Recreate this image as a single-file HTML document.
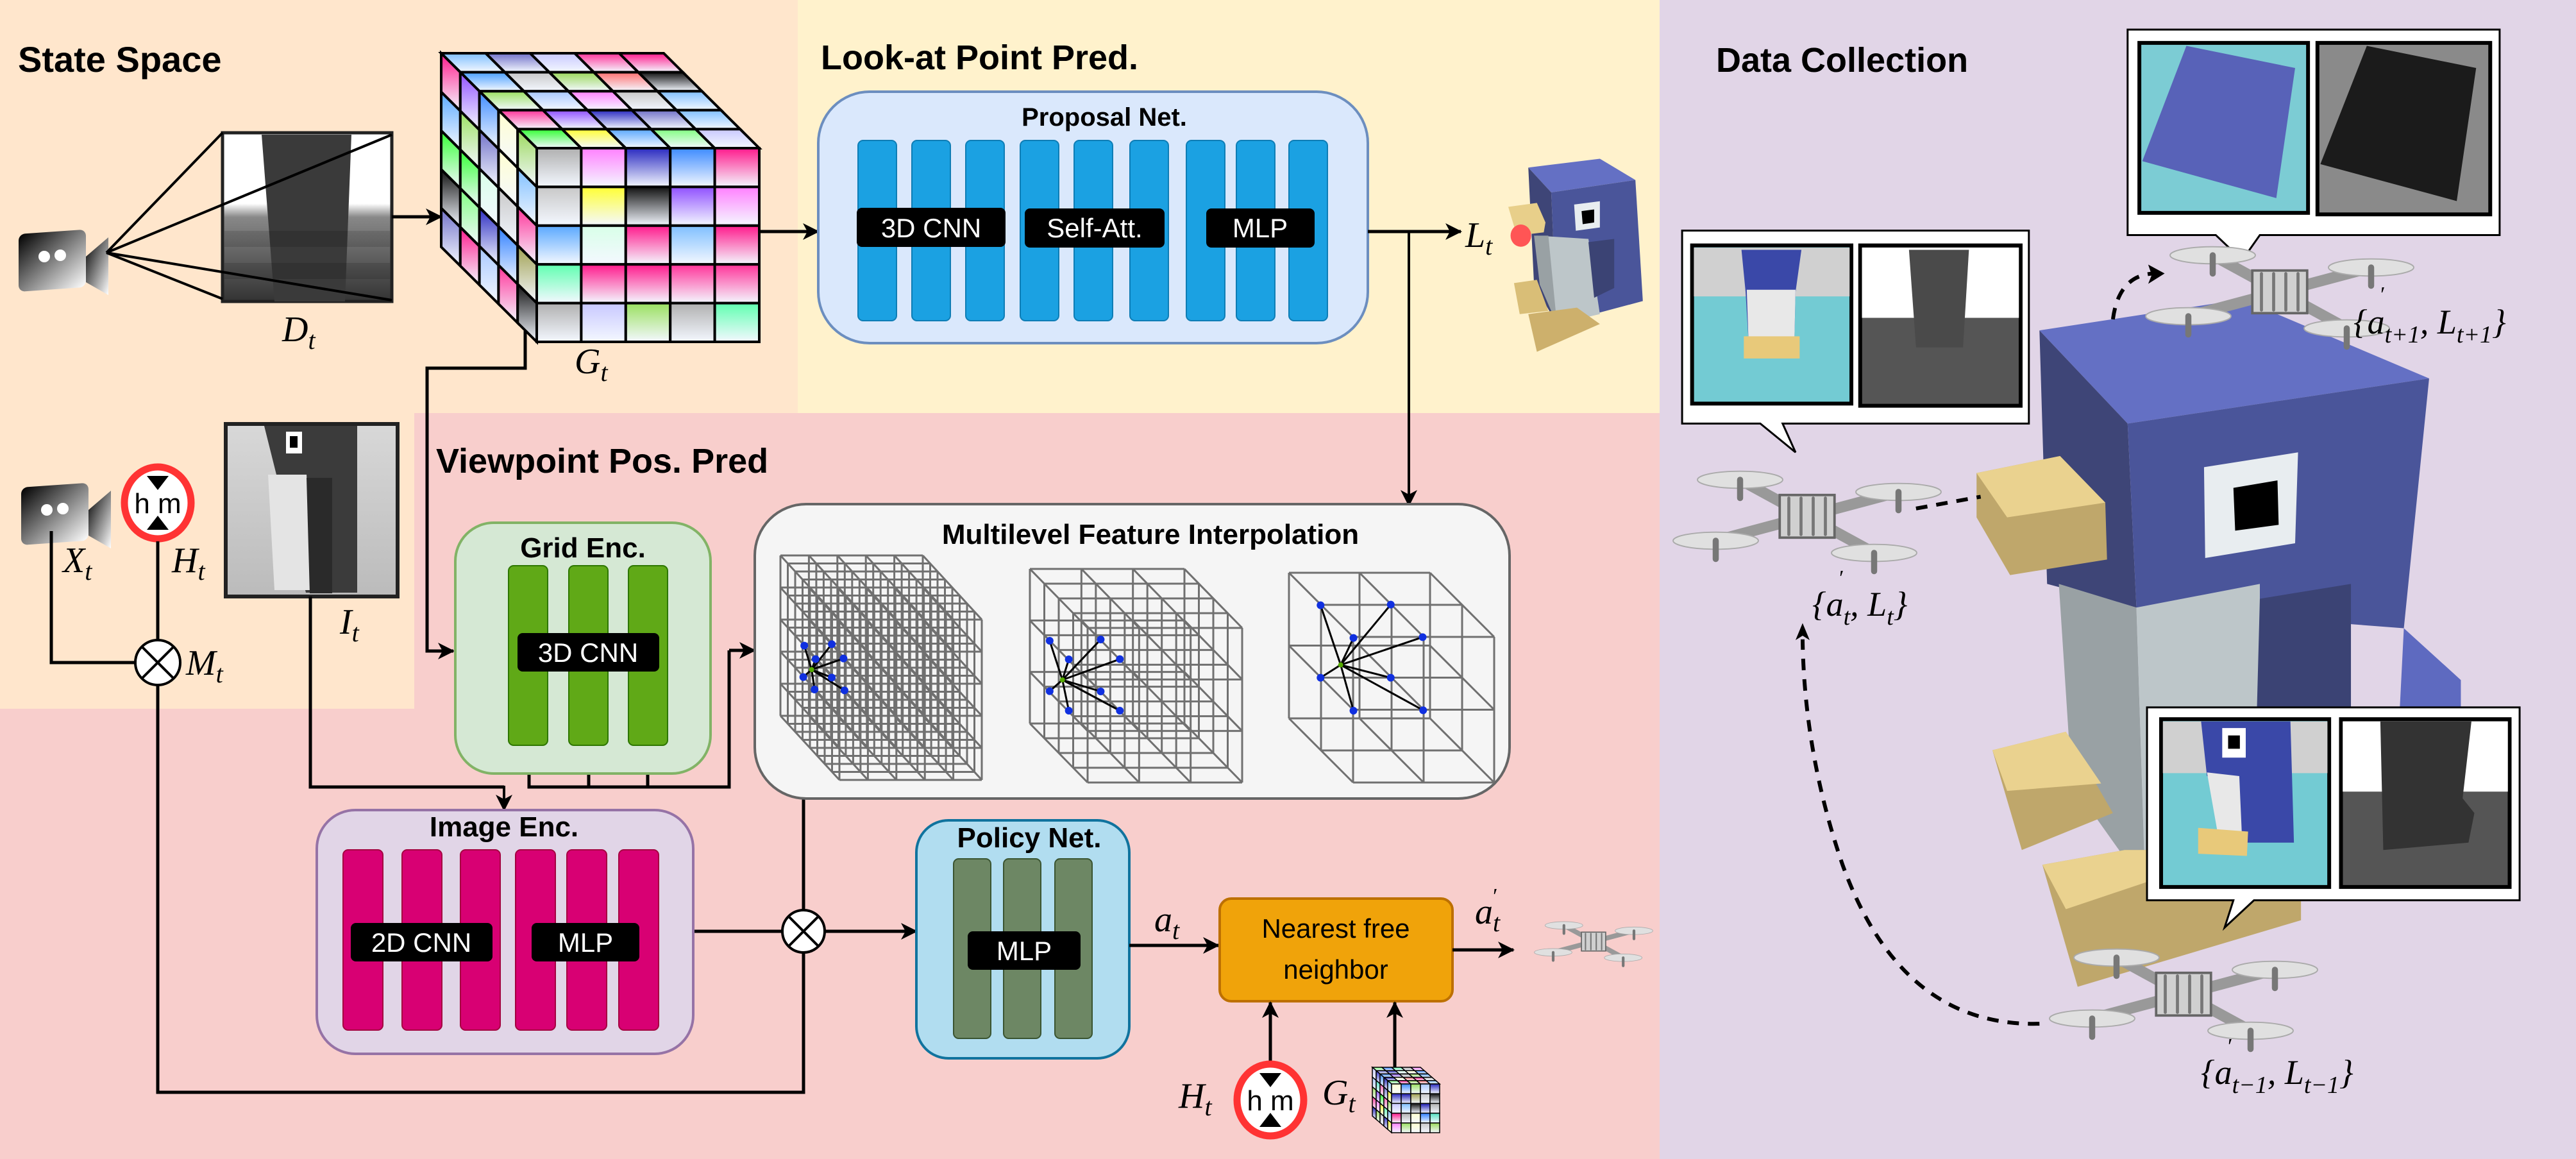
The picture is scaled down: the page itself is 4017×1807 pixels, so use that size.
<!DOCTYPE html>
<html><head><meta charset="utf-8"><style>
html,body{margin:0;padding:0;background:#fff}
svg{display:block}
.t{font-family:"Liberation Sans",sans-serif}
.m{font-family:"Liberation Serif",serif;font-style:italic}
</style></head><body>
<svg id="s" width="4017" height="1807" viewBox="0 0 4017 1807" xmlns="http://www.w3.org/2000/svg">
<defs>
<marker id="ar" markerUnits="userSpaceOnUse" markerWidth="28" markerHeight="26" refX="24" refY="13" orient="auto">
<path d="M0,0 L26,13 L0,26 L7,13 z" fill="#000"/></marker>
<linearGradient id="cam" x1="0" y1="0" x2="1" y2="1"><stop offset="0" stop-color="#000"/><stop offset="1" stop-color="#fff"/></linearGradient>
<linearGradient id="dep" x1="0" y1="0" x2="0" y2="1"><stop offset="0" stop-color="#fff"/><stop offset="0.42" stop-color="#fff"/><stop offset="0.5" stop-color="#888"/><stop offset="1" stop-color="#333"/></linearGradient>
<linearGradient id="img" x1="0" y1="0" x2="0" y2="1"><stop offset="0" stop-color="#d8d8d8"/><stop offset="1" stop-color="#bbb"/></linearGradient>
<g id="hm"><ellipse cx="0" cy="0" rx="52" ry="56" fill="#fff" stroke="#f33" stroke-width="11"/>
<path d="M-17,-42 L17,-42 L0,-20 z M-17,42 L17,42 L0,20 z" fill="#000"/>
<text x="0" y="16" text-anchor="middle" class="t" font-size="44">h m</text></g>
<g id="camera"><rect x="0" y="20" width="105" height="90" rx="10" fill="url(#cam)" transform="skewY(-4)"/>
<circle cx="40" cy="55" r="9" fill="#fff"/><circle cx="65" cy="53" r="9" fill="#fff"/>
<path d="M105,55 L140,25 L140,115 L105,95 z" fill="url(#cam)"/></g>
<g id="drone" stroke-linecap="round">
<path d="M-150,40 L150,-40 M-110,-60 L110,60" stroke="#999" stroke-width="18"/>
<rect x="-45" y="-35" width="90" height="70" fill="#d0d0d0" stroke="#666" stroke-width="4"/>
<path d="M-30,-30 V30 M-10,-30 V30 M10,-30 V30 M30,-30 V30" stroke="#777" stroke-width="5"/>
<ellipse cx="-150" cy="40" rx="70" ry="14" fill="#e0e0e0" stroke="#aaa" stroke-width="2"/>
<ellipse cx="150" cy="-40" rx="70" ry="14" fill="#e0e0e0" stroke="#aaa" stroke-width="2"/>
<ellipse cx="-110" cy="-60" rx="70" ry="14" fill="#e0e0e0" stroke="#aaa" stroke-width="2"/>
<ellipse cx="110" cy="60" rx="70" ry="14" fill="#e0e0e0" stroke="#aaa" stroke-width="2"/>
<path d="M-150,40 v30 M150,-40 v30 M-110,-60 v30 M110,60 v30" stroke="#777" stroke-width="10"/>
</g>
</defs>

<rect x="0" y="0" width="2588" height="1807" fill="#F8CECC"/>
<rect x="0" y="0" width="1244" height="644" fill="#FFE6CC"/>
<rect x="0" y="0" width="646" height="1105" fill="#FFE6CC"/>
<rect x="1244" y="0" width="1344" height="644" fill="#FFF2CC"/>
<rect x="2588" y="0" width="1429" height="1807" fill="#E1D5E7"/>

<text x="28" y="112" class="t" font-size="56" font-weight="bold">State Space</text>
<text x="1280" y="108" class="t" font-size="54" font-weight="bold">Look-at Point Pred.</text>
<text x="680" y="737" class="t" font-size="54" font-weight="bold">Viewpoint Pos. Pred</text>
<text x="2676" y="112" class="t" font-size="54" font-weight="bold">Data Collection</text>

<use href="#camera" x="29" y="345"/>
<rect x="347" y="207" width="264" height="263" fill="url(#dep)" stroke="#222" stroke-width="5"/>
<path d="M408,210 h140 l-10,260 h-110z" fill="#3a3a3a"/>
<g fill="#000" opacity="0.12"><rect x="350" y="360" width="258" height="25"/><rect x="350" y="410" width="258" height="25"/></g>
<path d="M166,394 L347,207 M166,394 L611,210 M166,394 L347,466 M166,394 L611,468" stroke="#000" stroke-width="4" fill="none"/>
<text x="440" y="532" class="m" font-size="56">D<tspan font-size="40" dy="12">t</tspan></text>
<line x1="611" y1="338" x2="688" y2="338" stroke="#000" stroke-width="5" marker-end="url(#ar)"/>

<g id="bigcube"></g>
<text x="896" y="582" class="m" font-size="56">G<tspan font-size="40" dy="12">t</tspan></text>

<polyline points="819,516 819,574 666,574 666,1015 707,1015" fill="none" stroke="#000" stroke-width="5" marker-end="url(#ar)"/>
<line x1="1184" y1="361" x2="1276" y2="361" stroke="#000" stroke-width="5" marker-end="url(#ar)"/>

<rect x="1276" y="143" width="857" height="392" rx="80" fill="#DAE8FC" stroke="#6C8EBF" stroke-width="4"/>
<text x="1722" y="196" text-anchor="middle" class="t" font-size="40" font-weight="bold">Proposal Net.</text>
<g fill="#1BA1E2" stroke="#0E7DB5" stroke-width="2">
<rect x="1338" y="219" width="60" height="281" rx="8"/><rect x="1422" y="219" width="60" height="281" rx="8"/><rect x="1506" y="219" width="60" height="281" rx="8"/>
<rect x="1591" y="219" width="60" height="281" rx="8"/><rect x="1675" y="219" width="60" height="281" rx="8"/><rect x="1762" y="219" width="60" height="281" rx="8"/>
<rect x="1850" y="219" width="60" height="281" rx="8"/><rect x="1928" y="219" width="60" height="281" rx="8"/><rect x="2010" y="219" width="60" height="281" rx="8"/></g>
<rect x="1336" y="324" width="232" height="61" rx="8" fill="#000"/>
<rect x="1598" y="325" width="218" height="61" rx="8" fill="#000"/>
<rect x="1881" y="325" width="169" height="61" rx="8" fill="#000"/>
<g class="t" font-size="42" fill="#fff" text-anchor="middle">
<text x="1452" y="370">3D CNN</text><text x="1707" y="370">Self-Att.</text><text x="1965" y="370">MLP</text></g>
<line x1="2133" y1="361" x2="2278" y2="361" stroke="#000" stroke-width="5" marker-end="url(#ar)"/>
<line x1="2197" y1="361" x2="2197" y2="788" stroke="#000" stroke-width="4" marker-end="url(#ar)"/>
<text x="2285" y="385" class="m" font-size="56">L<tspan font-size="40" dy="12">t</tspan></text>

<g transform="translate(1200,0) scale(0.893,0.5102)">
<polygon points="1325,512 1450,485 1512,550 1365,588" fill="#6470C4"/>
<polygon points="1325,512 1365,588 1375,990 1335,870" fill="#3E4577"/>
<polygon points="1365,588 1512,550 1525,920 1375,990" fill="#4A559A"/>
<polygon points="1340,720 1430,730 1450,960 1375,990 1345,860" fill="#BDC6C9"/>
<polygon points="1335,720 1360,720 1375,990 1345,870" fill="#99A1A4"/>
<polygon points="1430,740 1475,730 1475,880 1440,910" fill="#3B4374"/>
<polygon points="1405,625 1450,615 1450,695 1408,705" fill="#E8EDF0"/>
<polygon points="1418,645 1440,640 1440,680 1420,685" fill="#000"/>
<polygon points="1290,632 1340,620 1355,680 1352,710 1305,720" fill="#E8CF8A"/>
<polygon points="1300,865 1340,855 1360,950 1310,960" fill="#D9BE77"/>
<polygon points="1325,960 1410,940 1450,990 1340,1075" fill="#CDB06C"/>
<ellipse cx="1312" cy="720" rx="18" ry="34" fill="#f55"/>
</g>

<use href="#camera" x="33" y="740"/>
<use href="#hm" x="246" y="784"/>
<text x="98" y="892" class="m" font-size="56">X<tspan font-size="40" dy="12">t</tspan></text>
<text x="268" y="892" class="m" font-size="56">H<tspan font-size="40" dy="12">t</tspan></text>
<rect x="352" y="661" width="268" height="269" fill="url(#img)" stroke="#222" stroke-width="6"/>
<path d="M412,664 h145 v260 h-80 z" fill="#3b3b3b"/>
<path d="M418,740 h60 l10,180 h-60z" fill="#e4e4e4"/>
<path d="M478,745 h40 v180 h-35z" fill="#2a2a2a"/>
<rect x="446" y="673" width="25" height="34" fill="#fff"/><rect x="452" y="680" width="12" height="18" fill="#000"/>
<text x="530" y="988" class="m" font-size="56">I<tspan font-size="40" dy="12">t</tspan></text>
<g stroke="#000" stroke-width="5" fill="none">
<polyline points="80,828 80,1033 211,1033"/>
<line x1="246" y1="844" x2="246" y2="998"/>
<polyline points="246,1068 246,1703 1253,1703 1253,1245"/>
<polyline points="484,930 484,1227 786,1227"/>
<polyline points="825,1162 825,1227 1137,1227 1137,1014"/>
<line x1="918" y1="1162" x2="918" y2="1227"/><line x1="1010" y1="1162" x2="1010" y2="1227"/>
<line x1="1081" y1="1452" x2="1220" y2="1452"/>
</g>
<line x1="786" y1="1225" x2="786" y2="1263" stroke="#000" stroke-width="4" marker-end="url(#ar)"/>
<line x1="1137" y1="1014" x2="1177" y2="1014" stroke="#000" stroke-width="5" marker-end="url(#ar)"/>
<line x1="1286" y1="1452" x2="1429" y2="1452" stroke="#000" stroke-width="5" marker-end="url(#ar)"/>
<g stroke="#000" stroke-width="4" fill="#fff">
<circle cx="246" cy="1033" r="35"/><path d="M221,1008 L271,1058 M271,1008 L221,1058"/>
<circle cx="1253" cy="1452" r="33"/><path d="M1230,1429 L1276,1475 M1276,1429 L1230,1475"/></g>
<text x="290" y="1052" class="m" font-size="56">M<tspan font-size="40" dy="12">t</tspan></text>

<rect x="710" y="815" width="398" height="391" rx="60" fill="#D5E8D4" stroke="#82B366" stroke-width="4"/>
<text x="909" y="869" text-anchor="middle" class="t" font-size="44" font-weight="bold">Grid Enc.</text>
<g fill="#60A917" stroke="#2D7600" stroke-width="2"><rect x="793" y="882" width="61" height="280" rx="8"/><rect x="887" y="882" width="61" height="280" rx="8"/><rect x="980" y="882" width="61" height="280" rx="8"/></g>
<rect x="807" y="987" width="221" height="60" rx="8" fill="#000"/>
<text x="917" y="1032" text-anchor="middle" class="t" font-size="42" fill="#fff">3D CNN</text>

<rect x="1177" y="786" width="1177" height="459" rx="80" fill="#F5F5F5" stroke="#666" stroke-width="4"/>
<text x="1794" y="848" text-anchor="middle" class="t" font-size="44" font-weight="bold">Multilevel Feature Interpolation</text>
<g id="grids"></g>

<rect x="494" y="1263" width="587" height="380" rx="60" fill="#E1D5E7" stroke="#9673A6" stroke-width="4"/>
<text x="786" y="1304" text-anchor="middle" class="t" font-size="44" font-weight="bold">Image Enc.</text>
<g fill="#D80073" stroke="#A50040" stroke-width="2">
<rect x="535" y="1325" width="62" height="281" rx="8"/><rect x="627" y="1325" width="62" height="281" rx="8"/><rect x="718" y="1325" width="62" height="281" rx="8"/>
<rect x="804" y="1325" width="62" height="281" rx="8"/><rect x="884" y="1325" width="62" height="281" rx="8"/><rect x="965" y="1325" width="62" height="281" rx="8"/></g>
<rect x="547" y="1439" width="221" height="60" rx="8" fill="#000"/><rect x="829" y="1439" width="168" height="60" rx="8" fill="#000"/>
<g class="t" font-size="42" fill="#fff" text-anchor="middle"><text x="657" y="1484">2D CNN</text><text x="913" y="1484">MLP</text></g>

<rect x="1429" y="1279" width="332" height="371" rx="50" fill="#B1DDF0" stroke="#10739E" stroke-width="4"/>
<text x="1605" y="1321" text-anchor="middle" class="t" font-size="44" font-weight="bold">Policy Net.</text>
<g fill="#6D8764" stroke="#3A5431" stroke-width="2"><rect x="1487" y="1339" width="58" height="280" rx="8"/><rect x="1565" y="1339" width="58" height="280" rx="8"/><rect x="1645" y="1339" width="58" height="280" rx="8"/></g>
<rect x="1509" y="1452" width="176" height="60" rx="8" fill="#000"/>
<text x="1597" y="1497" text-anchor="middle" class="t" font-size="42" fill="#fff">MLP</text>
<line x1="1761" y1="1474" x2="1900" y2="1474" stroke="#000" stroke-width="5" marker-end="url(#ar)"/>
<text x="1800" y="1452" class="m" font-size="56">a<tspan font-size="40" dy="12">t</tspan></text>
<rect x="1902" y="1401" width="363" height="160" rx="18" fill="#F0A30A" stroke="#BD7000" stroke-width="4"/>
<g class="t" font-size="42" text-anchor="middle"><text x="2083" y="1462">Nearest free</text><text x="2083" y="1526">neighbor</text></g>
<line x1="2265" y1="1481" x2="2360" y2="1481" stroke="#000" stroke-width="5" marker-end="url(#ar)"/>
<text x="2300" y="1440" class="m" font-size="56">a<tspan font-size="40" dy="12">t</tspan></text>
<text x="2326" y="1408" class="m" font-size="34">′</text>
<use href="#drone" transform="translate(2485,1468) scale(0.42)"/>
<line x1="1981" y1="1657" x2="1981" y2="1563" stroke="#000" stroke-width="5" marker-end="url(#ar)"/>
<line x1="2175" y1="1667" x2="2175" y2="1563" stroke="#000" stroke-width="5" marker-end="url(#ar)"/>
<use href="#hm" x="1981" y="1715"/>
<text x="1838" y="1727" class="m" font-size="56">H<tspan font-size="40" dy="12">t</tspan></text>
<text x="2062" y="1722" class="m" font-size="56">G<tspan font-size="40" dy="12">t</tspan></text>
<g id="smallcube"></g>

<g transform="translate(2580,0) scale(0.9165,1.1524)">
<polygon points="655,447 1000,405 1318,512 805,573" fill="#6470C4"/>
<polygon points="655,447 805,573 820,822 668,790" fill="#3E4577"/>
<polygon points="805,573 1318,512 1275,850 820,822" fill="#4A559A"/>
<polygon points="1275,850 1372,920 1372,960 1268,960" fill="#5E6AC0"/>
<polygon points="688,790 820,822 835,1200 710,1060" fill="#99A1A4"/>
<polygon points="820,822 1030,790 1030,1200 835,1200" fill="#BDC6C9"/>
<polygon points="1030,810 1185,790 1185,960 1025,960" fill="#3B4374"/>
<polygon points="935,632 1095,612 1090,735 937,755" fill="#E8EDF0"/>
<polygon points="985,660 1060,650 1062,710 988,718" fill="#000"/>
<polygon points="548,640 690,617 767,680 770,757 605,778 548,700" fill="#BFA76B"/>
<polygon points="548,640 690,617 767,680 600,700" fill="#EAD28F"/>
<polygon points="575,1015 700,990 780,1100 625,1150" fill="#BFA76B"/>
<polygon points="575,1015 700,990 760,1060 600,1070" fill="#EAD28F"/>
<polygon points="660,1170 800,1150 1100,1150 1100,1245 720,1335" fill="#BFA76B"/>
<polygon points="660,1170 800,1150 1000,1150 700,1230" fill="#EAD28F"/>
<g fill="#fff" stroke="#000" stroke-width="3">
<path d="M805,40 H1438 V318 H1030 L1000,352 L955,318 H805 Z" vector-effect="non-scaling-stroke"/>
<path d="M47,312 H637 V573 H218 L240,612 L180,573 H47 Z" vector-effect="non-scaling-stroke"/>
<path d="M838,957 H1472 V1218 H1020 L970,1255 L985,1218 H838 Z" vector-effect="non-scaling-stroke"/></g>
<g stroke="#000" stroke-width="6">
<rect x="825" y="58" width="287" height="230" fill="#7CCCD4" vector-effect="non-scaling-stroke"/>
<rect x="1128" y="58" width="294" height="232" fill="#8a8a8a" vector-effect="non-scaling-stroke"/>
<rect x="64" y="332" width="271" height="214" fill="#73CBD3" vector-effect="non-scaling-stroke"/>
<rect x="350" y="332" width="273" height="217" fill="#555" vector-effect="non-scaling-stroke"/>
<rect x="862" y="973" width="286" height="227" fill="#73CBD3" vector-effect="non-scaling-stroke"/>
<rect x="1168" y="973" width="287" height="227" fill="#555" vector-effect="non-scaling-stroke"/></g>
<polygon points="905,62 1090,92 1058,268 830,218" fill="#5862B8"/>
<polygon points="1212,62 1398,92 1365,272 1133,222" fill="#1b1b1b"/>
<rect x="67" y="335" width="265" height="66" fill="#d0d0d0"/>
<polygon points="148,338 250,338 240,395 238,462 160,462 155,395" fill="#3A48A8"/>
<polygon points="157,392 240,392 238,462 160,462" fill="#e8e8e8"/>
<rect x="152" y="455" width="95" height="30" fill="#E8C97A"/>
<rect x="353" y="335" width="267" height="95" fill="#fff"/>
<polygon points="433,338 535,338 525,470 445,470" fill="#4a4a4a"/>
<rect x="865" y="976" width="280" height="70" fill="#d0d0d0"/>
<polygon points="930,976 1082,976 1088,1140 1000,1140 990,1060 940,1050" fill="#3A48A8"/>
<polygon points="940,1045 995,1050 1000,1140 960,1135" fill="#e8e8e8"/>
<rect x="966" y="985" width="40" height="40" fill="#fff"/><rect x="976" y="995" width="20" height="18" fill="#000"/>
<polygon points="925,1120 1010,1125 1008,1158 925,1155" fill="#E8C97A"/>
<rect x="1171" y="976" width="281" height="95" fill="#fff"/>
<polygon points="1235,976 1390,976 1375,1080 1395,1100 1385,1140 1240,1150" fill="#333"/>
<g fill="none" stroke="#000" stroke-width="6" stroke-dasharray="18,14">
<path d="M445,688 L555,672" vector-effect="non-scaling-stroke"/>
<path d="M780,432 Q790,372 850,370" vector-effect="non-scaling-stroke"/>
<path d="M655,1385 Q420,1390 320,1170 Q255,1020 252,865" vector-effect="non-scaling-stroke"/></g>
<path d="M868,370 L840,358 L846,372 L840,384 z" fill="#000"/>
<path d="M252,843 L240,866 L252,860 L264,866 z" fill="#000"/>
</g>
<use href="#drone" transform="translate(3555,455) scale(0.95,0.95)"/>
<use href="#drone" transform="translate(2818,805) scale(0.95,0.95)"/>
<use href="#drone" transform="translate(3405,1550) scale(0.95,0.95)"/>
<g class="m" font-size="54">
<text x="3670" y="520">{a<tspan font-size="38" dy="14">t+1</tspan><tspan dy="-14">, L</tspan><tspan font-size="38" dy="14">t+1</tspan><tspan dy="-14">}</tspan></text>
<text x="2826" y="960">{a<tspan font-size="38" dy="14">t</tspan><tspan dy="-14">, L</tspan><tspan font-size="38" dy="14">t</tspan><tspan dy="-14">}</tspan></text>
<text x="3432" y="1690">{a<tspan font-size="38" dy="14">t−1</tspan><tspan dy="-14">, L</tspan><tspan font-size="38" dy="14">t−1</tspan><tspan dy="-14">}</tspan></text>
</g>
<g class="m" font-size="34"><text x="3710" y="470">′</text><text x="2866" y="912">′</text><text x="3472" y="1642">′</text></g>
</svg>
<script>
var NS="http://www.w3.org/2000/svg";
function el(p,t,a){var e=document.createElementNS(NS,t);for(var k in a)e.setAttribute(k,a[k]);p.appendChild(e);return e;}
var defs=document.querySelector("defs");
var cols=["#1a1ab0","#ffff33","#c8c8c8","#c8c8ff","#2a2ac0","#33ff33","#3d8bff","#ff3399","#9ae060","#d8ffe8","#ffffd0","#3d8bff","#111111","#ff1a8c","#7fbfff","#4aa0ff","#7070c8","#ff7070","#a0a050","#ff80ff","#9050ff","#50e0c0","#b0b0b0","#a8c8ff","#ff60b0","#60ffb0","#9ad85a","#2f7fff","#5aa8ff","#80ff80"];
cols.forEach(function(c,i){var g=el(defs,"linearGradient",{id:"cg"+i,x1:0,y1:0,x2:0,y2:1});el(g,"stop",{offset:0,"stop-color":c});el(g,"stop",{offset:1,"stop-color":"#f4f8ff"});});
var seed=7;function rnd(){seed=(seed*9301+49297)%233280;return seed/233280;}
function pick(){return "url(#cg"+Math.floor(rnd()*cols.length)+")";}
function cube(g,x0,y0,W,H,dx,dy,n,sw){
 function P(a,b){return [x0+a*W/n+dx*(1-b/n),y0+dy*(1-b/n)];}
 function Q(r,b){return [x0+dx*(1-b/n),y0+r*H/n+dy*(1-b/n)];}
 for(var b=0;b<n;b++)for(var a=0;a<n;a++){var p=[P(a,b),P(a+1,b),P(a+1,b+1),P(a,b+1)];el(g,"polygon",{points:p.join(" "),fill:pick(),stroke:"#000","stroke-width":sw});}
 for(var b=0;b<n;b++)for(var r=0;r<n;r++){var p=[Q(r,b),Q(r,b+1),Q(r+1,b+1),Q(r+1,b)];el(g,"polygon",{points:p.join(" "),fill:pick(),stroke:"#000","stroke-width":sw});}
 for(var r=0;r<n;r++)for(var a=0;a<n;a++){el(g,"rect",{x:x0+a*W/n,y:y0+r*H/n,width:W/n,height:H/n,fill:pick(),stroke:"#000","stroke-width":sw});}
}
cube(document.getElementById("bigcube"),837,231,347,302,-149,-148,5,4);
cube(document.getElementById("smallcube"),2170,1690,75,76,-30,-26,5,1.5);
function lattice(g,x0,y0,W,H,ox,oy,nx,ny,nz){
 function pt(i,j,k){return [x0+i*W/nx+k*ox/nz,y0+j*H/ny+k*oy/nz];}
 var a={stroke:"#707070","stroke-width":3,fill:"none"};
 for(var j=0;j<=ny;j++)for(var k=0;k<=nz;k++){var p=pt(0,j,k),q=pt(nx,j,k);el(g,"line",Object.assign({x1:p[0],y1:p[1],x2:q[0],y2:q[1]},a));}
 for(var i=0;i<=nx;i++)for(var k=0;k<=nz;k++){var p=pt(i,0,k),q=pt(i,ny,k);el(g,"line",Object.assign({x1:p[0],y1:p[1],x2:q[0],y2:q[1]},a));}
 for(var i=0;i<=nx;i++)for(var j=0;j<=ny;j++){var p=pt(i,j,0),q=pt(i,j,nz);el(g,"line",Object.assign({x1:p[0],y1:p[1],x2:q[0],y2:q[1]},a));}
}
var G=document.getElementById("grids");
lattice(G,1217,866,222,250,92,100,5,5,8);
lattice(G,1606,887,241,241,90,92,3,3,4);
lattice(G,2010,893,220,227,100,100,2,2,2);
function star(c,pts){pts.forEach(function(p){el(G,"line",{x1:c[0],y1:c[1],x2:p[0],y2:p[1],stroke:"#000","stroke-width":3});});pts.forEach(function(p){el(G,"circle",{cx:p[0],cy:p[1],r:6,fill:"#1030e0"});});el(G,"circle",{cx:c[0],cy:c[1],r:4,fill:"#5a0"});}
var bx=1170,by=780,fx=0.7653,fy=1/3;
function T(a){return [bx+a[0]*fx,by+a[1]*fy];}
star(T([125,792]),[[110,680],[166,673],[133,743],[190,740],[108,827],[166,829],[131,885],[192,889]].map(T));
star(T([636,840]),[[610,657],[714,651],[649,744],[753,743],[610,893],[714,894],[649,984],[753,984]].map(T));
star(T([1203,770]),[[1162,491],[1305,488],[1229,644],[1370,640],[1162,830],[1305,830],[1229,984],[1371,982]].map(T));
</script>
</body></html>
